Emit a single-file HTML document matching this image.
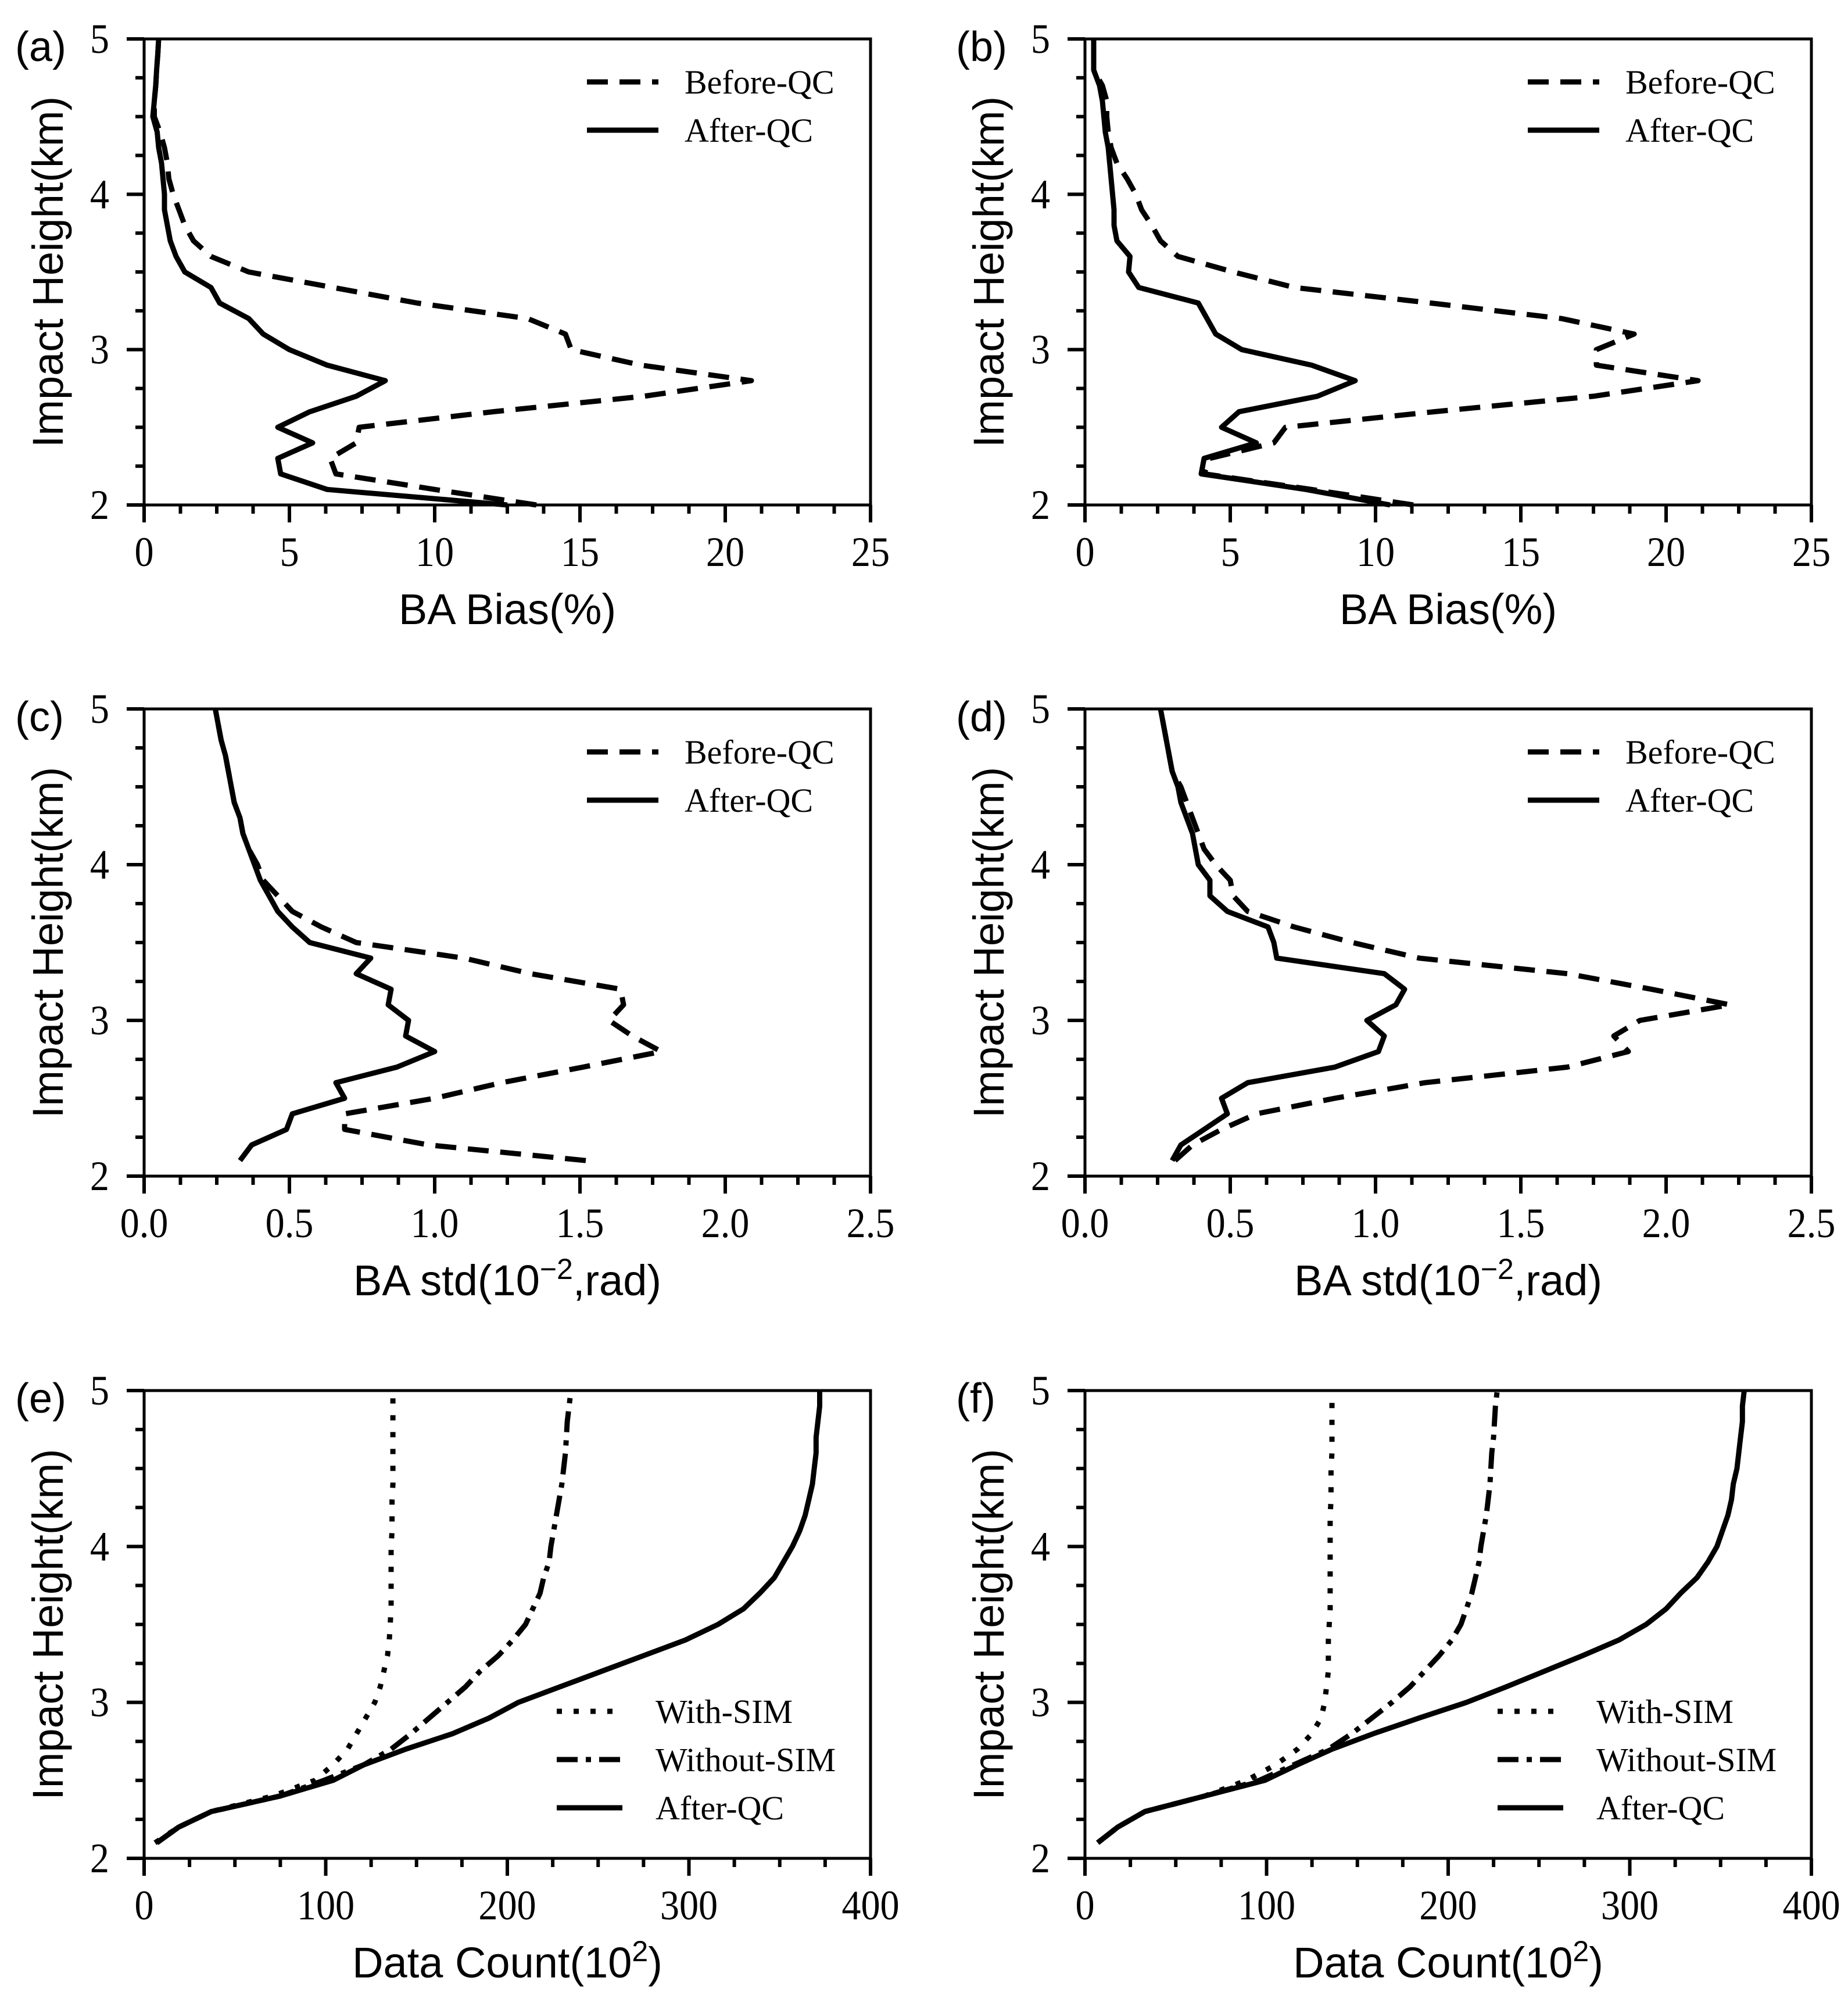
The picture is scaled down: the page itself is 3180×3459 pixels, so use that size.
<!DOCTYPE html>
<html><head><meta charset="utf-8"><style>
html,body{margin:0;padding:0;background:#fff;}
svg{display:block;}
</style></head><body>
<svg id="fig" width="3180" height="3459" viewBox="0 0 3180 3459" xmlns="http://www.w3.org/2000/svg"></svg>
<script>
// ---- data ----
const hA = [2.0,2.1,2.2,2.3,2.4,2.5,2.6,2.7,2.8,2.9,3.0,3.1,3.2,3.3,3.4,3.5,3.6,3.7,3.8,3.9,4.0,4.1,4.2,4.3,4.4,4.5,4.6,4.7,4.8,4.9,5.0];
const hC = [2.1,2.2,2.3,2.4,2.5,2.6,2.7,2.8,2.9,3.0,3.1,3.2,3.3,3.4,3.5,3.6,3.7,3.8,3.9,4.0,4.1,4.2,4.3,4.4,4.5,4.6,4.7,4.8,4.9,5.0];
const aBefore = [13.5,10.0,6.6,6.4,7.3,7.4,12.0,17.2,20.9,17.1,14.7,14.5,13.2,9.4,6.5,3.6,2.3,1.7,1.4,1.2,1.0,0.85,0.8,0.7,0.55,0.35,0.35,0.4,0.43,0.47,0.5];
const aAfter = [12.5,6.3,4.7,4.6,5.8,4.6,5.7,7.3,8.3,6.3,5.0,4.1,3.6,2.6,2.3,1.4,1.1,0.9,0.8,0.7,0.7,0.65,0.6,0.5,0.45,0.3,0.35,0.4,0.43,0.47,0.5];
const bBefore = [11.3,7.8,4.1,4.3,6.5,6.9,12.0,17.5,21.1,17.6,17.6,18.9,16.4,11.9,7.2,5.1,3.2,2.6,2.3,1.95,1.75,1.45,1.1,0.9,0.8,0.75,0.75,0.6,0.3,0.3,0.3];
const bAfter = [10.5,7.6,4.0,4.1,5.9,4.7,5.3,8.0,9.3,7.8,5.4,4.5,4.2,3.9,1.85,1.5,1.55,1.1,1.0,1.0,0.95,0.9,0.85,0.8,0.7,0.65,0.6,0.5,0.3,0.3,0.3];
const cBefore = [1.52,0.98,0.69,0.69,1.0,1.23,1.51,1.78,1.68,1.6,1.65,1.64,1.33,1.10,0.73,0.61,0.51,0.46,0.41,0.39,0.36,0.34,0.33,0.31,0.30,0.29,0.28,0.265,0.255,0.245];
const cAfter = [0.33,0.37,0.49,0.51,0.69,0.66,0.87,1.0,0.9,0.91,0.84,0.85,0.73,0.78,0.57,0.51,0.46,0.43,0.40,0.38,0.36,0.34,0.33,0.31,0.30,0.29,0.28,0.265,0.255,0.245];
const dBefore = [0.31,0.37,0.47,0.59,0.86,1.17,1.66,1.87,1.82,1.91,2.22,1.95,1.66,1.15,0.92,0.72,0.56,0.51,0.50,0.45,0.41,0.39,0.37,0.35,0.33,0.30,0.29,0.28,0.27,0.26];
const dAfter = [0.30,0.33,0.41,0.49,0.47,0.56,0.86,1.01,1.03,0.97,1.07,1.10,1.03,0.66,0.65,0.63,0.49,0.43,0.43,0.39,0.38,0.37,0.35,0.33,0.32,0.30,0.29,0.28,0.27,0.26];
const eAfter = [7,19,37,75,104,121,144,170,190,206,229,252,275,298,316,330,339,347,352,357,361,364,366,368,369,370,370,371,372,372];
const eWith = [6,19,37,71,94,104,112,117,122,127,130,132,134,135,135.5,136,136,136,136,136,136.5,136.5,136.5,137,137,137,137,137,137,137];
const eWithout = [7,19,37,75,99,121,136,147,157,167,177,185,195,203,210,214,218,220,223,224,225.5,227,228.5,230,231,232,232.5,233,234,235];
const fAfter = [7,18,33,66,99,117,136,159,184,210,232,253,274,294,309,320,328,337,343,348,351,354,356,357,359,360,361,362,362,363];
const fWith = [7,18,33,66,89,105,117,125,130,132,133,134,134,134,134.5,135,135,135,135,135,135,135,135.5,135.5,135.5,136,136,136,136,136];
const fWithout = [7,18,33,66,96,115,134,147,158,169,179,187,195,202,207,210,213,215,217,218,219.5,221,222,223,223.5,224,225,225.5,226,227];
const biasTicks = ["0","5","10","15","20","25"];
const stdTicks = ["0.0","0.5","1.0","1.5","2.0","2.5"];
const countTicks = ["0","100","200","300","400"];
const yTicks = ["2","3","4","5"];

const NS = "http://www.w3.org/2000/svg";
const svg = document.getElementById("fig");
function mk(tag, attrs, parent){const e=document.createElementNS(NS,tag);for(const k in attrs)e.setAttribute(k,attrs[k]);(parent||svg).appendChild(e);return e;}

const DASH = {dash:"36,20", solid:"", dot:"9,20", dashdot:"36,14,9,14"};
const SX = 0.92;

function panel(p){
  const g = mk("g",{});
  
  
  const L=p.left,T=p.top,W=p.w,H=p.h;
  const xs=v=>L+(v-p.xmin)/(p.xmax-p.xmin)*W;
  const ys=v=>T+H-(v-2)/3*H;
  p.series.forEach(s=>{
    const pts=s.x.map((v,i)=>xs(v).toFixed(1)+","+ys(s.h[i]).toFixed(1)).join(" ");
    const pl=mk("polyline",{points:pts,fill:"none",stroke:"#000","stroke-width":9,"stroke-linejoin":"round","stroke-dasharray":DASH[s.style]},g);
    
    
  });
  const fr=mk("rect",{x:L,y:T,width:W,height:H,fill:"none",stroke:"#000","stroke-width":5},g);
  
  
  const nx=p.ticks.length-1;
  for(let i=0;i<=nx*4;i++){
    const v=p.xmin+(p.xmax-p.xmin)*i/(nx*4);
    const X=xs(v),len=i%4===0?30:15;
    mk("line",{x1:X,y1:T+H,x2:X,y2:T+H+len,stroke:"#000","stroke-width":6},g);
  }
  p.ticks.forEach((t,i)=>{
    const v=p.xmin+(p.xmax-p.xmin)*i/nx;
    const tx=mk("text",{x:0,y:0,transform:`translate(${xs(v)},${T+H+105}) scale(${SX},1)`,"text-anchor":"middle","font-family":"Liberation Serif, serif","font-size":72},g);
    tx.textContent=t;
    
    
  });
  for(let i=0;i<=12;i++){
    const Y=ys(2+i*0.25),len=i%4===0?30:15;
    mk("line",{x1:L,y1:Y,x2:L-len,y2:Y,stroke:"#000","stroke-width":6},g);
  }
  yTicks.forEach((t,i)=>{
    const ty=mk("text",{x:0,y:0,transform:`translate(${L-60},${ys(2+i)+24}) scale(${SX},1)`,"text-anchor":"end","font-family":"Liberation Serif, serif","font-size":72},g);
    ty.textContent=t;
    
    
  });
  const yt=mk("text",{x:0,y:0,transform:`translate(${L-140},${T+H/2}) rotate(-90)`,"text-anchor":"middle","font-family":"Liberation Sans, sans-serif","font-size":74},g);
  yt.textContent="Impact Height(km)";
  
  
  const xt=mk("text",{x:L+W*0.5,y:T+H+205,"text-anchor":"middle","font-family":"Liberation Sans, sans-serif","font-size":74},g);
  xt.innerHTML=p.title;
  
  
  const pl=mk("text",{x:L-222,y:T+38,"font-family":"Liberation Sans, sans-serif","font-size":72},g);
  pl.textContent="("+p.id+")";
  
  
  p.legend.forEach((s,i)=>{
    const ly=T+p.legY+i*p.legStep;
    const ln=mk("line",{x1:L+p.legX,y1:ly,x2:L+p.legX+p.legLen,y2:ly,stroke:"#000","stroke-width":9,"stroke-dasharray":DASH[s.style]},g);
    
    
    const lt=mk("text",{x:L+p.legT,y:ly+20,"font-family":"Liberation Serif, serif","font-size":58},g);
    lt.textContent=s.label;
    
    
  });
}
const qcLeg=[{style:"dash",label:"Before-QC"},{style:"solid",label:"After-QC"}];
const cntLeg=[{style:"dot",label:"With-SIM"},{style:"dashdot",label:"Without-SIM"},{style:"solid",label:"After-QC"}];
const rows=[[67,802],[1220,804],[2393,805]];
const cols=[[248,1250],[1867,1250]];
const biasT="BA Bias(%)", stdT='BA std(10<tspan dy="-28" font-size="50">−2</tspan><tspan dy="28">,rad)</tspan>', cntT='Data Count(10<tspan dy="-28" font-size="50">2</tspan><tspan dy="28">)</tspan>';
function P(id,c,r,xmax,ticks,title,series,legend,cnt){
  panel({id,left:cols[c][0],w:cols[c][1],top:rows[r][0],h:rows[r][1],xmin:0,xmax,ticks,title,series,legend,
    legX: cnt?710:762, legLen: cnt?113:123, legT: cnt?880:930, legY: cnt?552:74, legStep: 83});
}
P("a",0,0,25,biasTicks,biasT,[{name:"before-qc",style:"dash",x:aBefore,h:hA},{name:"after-qc",style:"solid",x:aAfter,h:hA}],qcLeg);
P("b",1,0,25,biasTicks,biasT,[{name:"before-qc",style:"dash",x:bBefore,h:hA},{name:"after-qc",style:"solid",x:bAfter,h:hA}],qcLeg);
P("c",0,1,2.5,stdTicks,stdT,[{name:"before-qc",style:"dash",x:cBefore,h:hC},{name:"after-qc",style:"solid",x:cAfter,h:hC}],qcLeg);
P("d",1,1,2.5,stdTicks,stdT,[{name:"before-qc",style:"dash",x:dBefore,h:hC},{name:"after-qc",style:"solid",x:dAfter,h:hC}],qcLeg);
P("e",0,2,400,countTicks,cntT,[{name:"with-sim",style:"dot",x:eWith,h:hC},{name:"without-sim",style:"dashdot",x:eWithout,h:hC},{name:"after-qc",style:"solid",x:eAfter,h:hC}],cntLeg,true);
P("f",1,2,400,countTicks,cntT,[{name:"with-sim",style:"dot",x:fWith,h:hC},{name:"without-sim",style:"dashdot",x:fWithout,h:hC},{name:"after-qc",style:"solid",x:fAfter,h:hC}],cntLeg,true);
</script>
</body></html>
